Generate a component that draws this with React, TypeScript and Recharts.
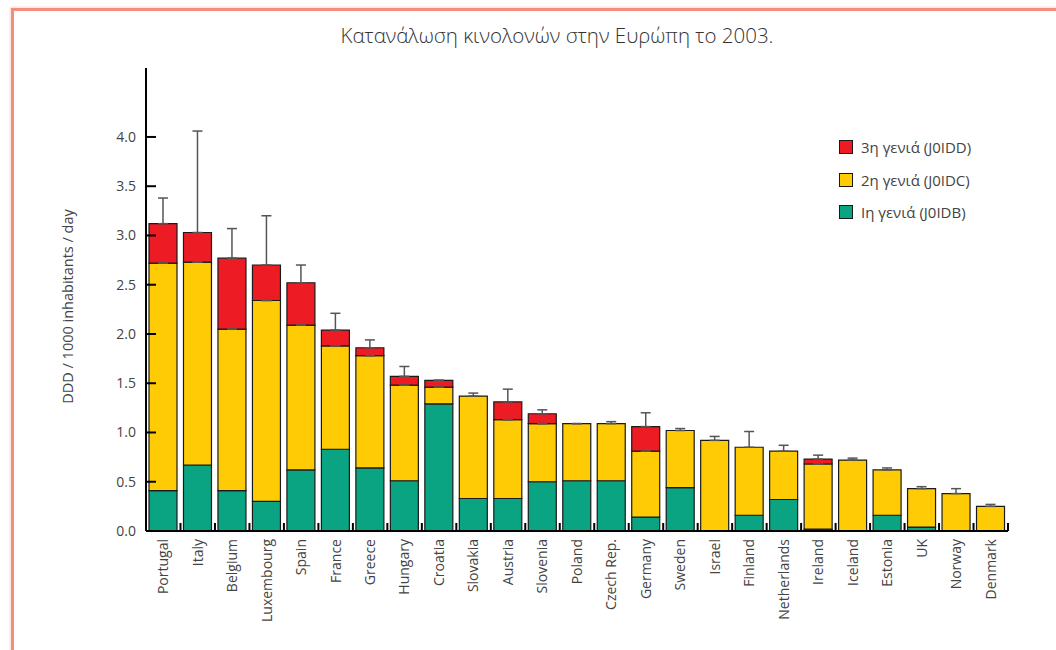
import React from "react";
import { BarChart, Bar, XAxis, YAxis, ErrorBar } from "recharts";

const countries = [
  "Portugal", "Italy", "Belgium", "Luxembourg", "Spain", "France", "Greece", "Hungary",
  "Croatia", "Slovakia", "Austria", "Slovenia", "Poland", "Czech Rep.", "Germany", "Sweden",
  "Israel", "Finland", "Netherlands", "Ireland", "Iceland", "Estonia", "UK", "Norway", "Denmark",
];
const gen1 = [0.41, 0.67, 0.41, 0.30, 0.62, 0.83, 0.64, 0.51, 1.29, 0.33, 0.33, 0.50, 0.51, 0.51, 0.14, 0.44, 0, 0.16, 0.32, 0.02, 0, 0.16, 0.04, 0, 0];
const gen2 = [2.31, 2.06, 1.64, 2.04, 1.47, 1.05, 1.14, 0.97, 0.17, 1.04, 0.80, 0.59, 0.58, 0.58, 0.67, 0.58, 0.92, 0.69, 0.49, 0.66, 0.72, 0.46, 0.39, 0.38, 0.25];
const gen3 = [0.40, 0.30, 0.72, 0.36, 0.43, 0.16, 0.08, 0.09, 0.07, 0, 0.18, 0.10, 0, 0, 0.25, 0, 0, 0, 0, 0.05, 0, 0, 0, 0, 0];
const errUp = [0.26, 1.03, 0.30, 0.50, 0.18, 0.17, 0.08, 0.10, 0, 0.03, 0.13, 0.04, 0, 0.02, 0.14, 0.02, 0.04, 0.16, 0.06, 0.04, 0.02, 0.02, 0.02, 0.05, 0.02];
const yTicks = [0, 0.5, 1, 1.5, 2, 2.5, 3, 3.5, 4];

const seriesNames = ["3η γενιά (J0IDD)", "2η γενιά (J0IDC)", "Ιη γενιά (J0IDB)"];
const RED = "#ED1C24";
const YELLOW = "#FFCB05";
const GREEN = "#0BA483";

// error bar sits on the top-most visible segment
const data = countries.map((c, i) => ({
  country: c,
  g1: gen1[i],
  g2: gen2[i],
  g3: gen3[i],
  err2: gen3[i] > 0 ? [0, 0] : [0, errUp[i]],
  err3: gen3[i] > 0 ? [0, errUp[i]] : [0, 0],
}));

const FONT = "'Open Sans', 'Noto Sans', sans-serif";
const BAND = 862 / countries.length;

const XTick = (props: any) => {
  const { x, y, payload, index } = props;
  const axisY = y - 8;
  return (
    <g>
      {index > 0 && (
        <line x1={x - BAND / 2} x2={x - BAND / 2} y1={axisY} y2={axisY - 8} stroke="#000" strokeWidth={2} />
      )}
      {index === countries.length - 1 && (
        <line x1={x + BAND / 2} x2={x + BAND / 2} y1={axisY} y2={axisY - 8} stroke="#000" strokeWidth={2} />
      )}
      <text
        x={x}
        y={y}
        dy="0.35em"
        transform={`rotate(-90 ${x} ${y})`}
        textAnchor="end"
        fontSize={14}
        fill="#444"
        fontFamily={FONT}
      >
        {payload.value}
      </text>
    </g>
  );
};

const YTick = (props: any) => {
  const { x, y, payload } = props;
  return (
    <g>
      <line x1={x + 10} x2={x + 20} y1={y} y2={y} stroke="#000" strokeWidth={2} />
      <text x={x} y={y} dy="0.35em" textAnchor="end" fontSize={14} fill="#444" fontFamily={FONT}>
        {Number(payload.value).toFixed(1)}
      </text>
    </g>
  );
};

const YLabel = (props: any) => {
  const vb = props.viewBox || {};
  const cx = 68;
  const cy = (vb.y ?? 68) + (vb.height ?? 463) / 2 + 7;
  return (
    <text
      x={cx}
      y={cy}
      transform={`rotate(-90 ${cx} ${cy})`}
      textAnchor="middle"
      dy="0.35em"
      fontSize={14.5}
      fill="#444"
      fontFamily={FONT}
    >
      DDD / 1000 inhabitants / day
    </text>
  );
};

const legendColors = [RED, YELLOW, GREEN];

export default function App() {
  return (
    <div style={{ position: "absolute", left: 0, top: 0, width: 1056, height: 650, background: "#fff", overflow: "hidden" }}>
      <div
        style={{
          position: "absolute",
          left: 11,
          top: 8,
          width: 1100,
          height: 700,
          borderLeft: "3px solid #F48E7C",
          borderTop: "3px solid #F48E7C",
          boxShadow: "-1px -1px 2px rgba(244,142,124,0.35)",
        }}
      />
      <div
        style={{
          position: "absolute",
          left: 0,
          width: 1114,
          top: 21,
          textAlign: "center",
          fontFamily: FONT,
          fontSize: 20.5,
          color: "#333",
          fontWeight: 300,
        }}
      >
        Κατανάλωση κινολονών στην Ευρώπη το 2003.
      </div>
      <div style={{ position: "absolute", left: 0, top: 0 }}>
        <BarChart
          width={1056}
          height={650}
          data={data}
          margin={{ top: 68, right: 48, bottom: 0, left: 86 }}
        >
          <YAxis
            width={60}
            domain={[0, 4.7]}
            ticks={yTicks}
            allowDataOverflow
            tickSize={0}
            tickMargin={10}
            tick={<YTick />}
            tickLine={false}
            axisLine={{ stroke: "#000", strokeWidth: 2 }}
            label={<YLabel />}
          />
          <XAxis
            dataKey="country"
            height={119}
            interval={0}
            tickSize={0}
            tickMargin={8}
            tick={<XTick />}
            tickLine={false}
            axisLine={{ stroke: "#000", strokeWidth: 2 }}
          />
          <Bar dataKey="g1" stackId="a" fill={GREEN} stroke="#1a1a1a" strokeWidth={1.2} barSize={28} isAnimationActive={false} />
          <Bar dataKey="g2" stackId="a" fill={YELLOW} stroke="#1a1a1a" strokeWidth={1.2} barSize={28} isAnimationActive={false}>
            <ErrorBar dataKey="err2" width={5} stroke="#555" strokeWidth={1.5} direction="y" />
          </Bar>
          <Bar dataKey="g3" stackId="a" fill={RED} stroke="#1a1a1a" strokeWidth={1.2} barSize={28} isAnimationActive={false}>
            <ErrorBar dataKey="err3" width={5} stroke="#555" strokeWidth={1.5} direction="y" />
          </Bar>
        </BarChart>
      </div>
      <div style={{ position: "absolute", left: 839, top: 131, fontFamily: FONT, fontSize: 15, color: "#444" }}>
        {seriesNames.map((n, i) => (
          <div key={n} style={{ display: "flex", alignItems: "center", height: 32.5 }}>
            <span
              style={{
                display: "inline-block",
                width: 12,
                height: 12,
                background: legendColors[i],
                border: "1.2px solid #1a1a1a",
                marginRight: 8,
              }}
            />
            <span>{n}</span>
          </div>
        ))}
      </div>
    </div>
  );
}
